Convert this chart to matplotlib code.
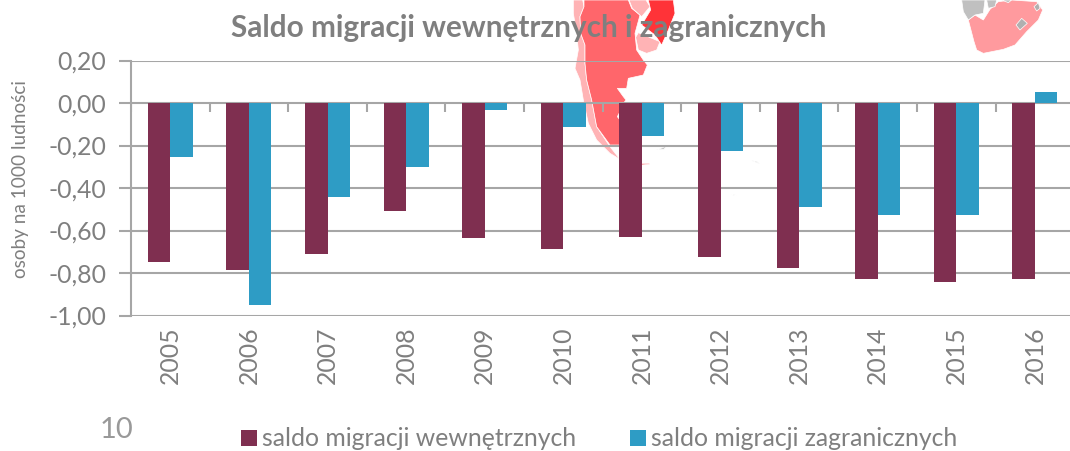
import numpy as np
import matplotlib
matplotlib.use("Agg")
import matplotlib.pyplot as plt
from matplotlib.patches import Polygon

plt.rcParams['font.family'] = ['Lato', 'DejaVu Sans']

lata = ['2005', '2006', '2007', '2008', '2009', '2010', '2011', '2012', '2013', '2014', '2015', '2016']
wewn = [-0.75, -0.785, -0.71, -0.51, -0.635, -0.685, -0.63, -0.725, -0.775, -0.83, -0.84, -0.83]
zagr = [-0.255, -0.95, -0.44, -0.30, -0.035, -0.115, -0.155, -0.225, -0.49, -0.525, -0.525, 0.05]
y_ticks = [0.20, 0.00, -0.20, -0.40, -0.60, -0.80, -1.00]

SZARY = '#7f7f7f'
LINIA = '#a6a6a6'

W, H = 1070, 451
fig = plt.figure(figsize=(W / 100, H / 100), dpi=100)

# prostokat osi w pikselach obrazka
lewa, prawa, gora, dol = 131, 1070, 60.5, 315.5
ax = fig.add_axes([lewa / W, 1 - dol / H, (prawa - lewa) / W, (dol - gora) / H])
ax.patch.set_alpha(0)

# kawalki mapy przebijajace spod wykresu (wspolrzedne z powiekszenia)
chile = [(40, 0), (68, 0), (72, 20), (60, 50), (62, 100), (75, 135), (75, 190), (80, 240), (95, 300), (110, 380),
         (150, 440), (180, 478), (150, 460), (110, 420), (85, 370), (70, 300), (60, 240), (45, 205), (55, 150),
         (50, 100), (40, 40)]
argentyna = [(72, 0), (205, 0), (215, 25), (240, 45), (225, 100), (230, 150), (250, 180), (262, 195), (250, 225),
             (205, 235), (200, 265), (172, 265), (190, 290), (198, 300), (190, 310), (180, 335), (172, 350),
             (180, 360), (178, 435), (150, 435), (110, 380), (95, 300), (80, 240), (75, 190), (75, 135), (62, 100),
             (60, 50), (72, 20)]
paragwaj = [(207, 0), (258, 0), (270, 20), (245, 50), (217, 25)]
urugwaj = [(235, 98), (300, 125), (290, 150), (260, 160), (235, 150), (227, 112)]
brazylia = [(265, 0), (340, 0), (345, 40), (325, 90), (305, 135), (285, 105), (245, 75), (272, 30)]
odlamki = [(245, 490), (268, 490), (268, 493), (245, 495)]
wyspy = [[(290, 450), (320, 438), (312, 448)], [(575, 482), (600, 492), (590, 484)], [(515, 583), (530, 586), (520, 586)]]

rpa = [(85, 60), (105, 45), (130, 60), (150, 28), (175, 5), (215, 0), (290, 5), (308, 30), (295, 60), (260, 95),
       (225, 135), (190, 148), (130, 160), (110, 150), (102, 125)]
namibia = [(65, 0), (135, 0), (130, 40), (105, 45), (85, 60), (70, 35)]
botswana = [(140, 0), (170, 0), (165, 20), (145, 25)]
zimbabwe = [(185, 0), (215, 0), (205, 8)]
lesotho = [(228, 75), (245, 55), (262, 70), (240, 90)]
suazi = [(282, 20), (295, 8), (300, 25), (290, 33)]


def mapa(punkty, x0, kolor):
    xy = [((x0 + x / 3) / W, 1 - (y / 3) / H) for x, y in punkty]
    fig.add_artist(Polygon(xy, closed=True, transform=fig.transFigure, facecolor=kolor,
                           edgecolor='white', linewidth=0.5, zorder=-1))


mapa(chile, 560, '#ffb3b5')
mapa(argentyna, 560, '#ff666b')
mapa(paragwaj, 560, '#ffb3b5')
mapa(urugwaj, 560, '#ffb3b5')
mapa(brazylia, 560, '#ff3338')
mapa(odlamki, 560, '#ff666b')
for w in wyspy:
    mapa(w, 560, '#c8c8c8')
mapa(rpa, 940, '#ff9a9e')
mapa(namibia, 940, '#c0c0c0')
mapa(botswana, 940, '#c0c0c0')
mapa(zimbabwe, 940, '#c0c0c0')
mapa(lesotho, 940, '#b0b0b0')
mapa(suazi, 940, '#b0b0b0')

x = np.arange(len(lata))
szer = 0.286
ax.bar(x - szer / 2, wewn, szer, color='#7f2f50', zorder=3, label='saldo migracji wewnętrznych')
ax.bar(x + szer / 2, zagr, szer, color='#2e9cc5', zorder=3, label='saldo migracji zagranicznych')

ax.set_ylim(-1.0, 0.2)
ax.set_yticks(y_ticks)
ax.set_yticklabels([f'{v:.2f}'.replace('.', ',') for v in y_ticks], fontsize=17.8, color=SZARY)
ax.grid(axis='y', color=LINIA, linewidth=1.5, zorder=1)
ax.tick_params(axis='y', length=9, width=1.5, color=LINIA, pad=9)

ax.spines['top'].set_visible(False)
ax.spines['right'].set_visible(False)
ax.spines['bottom'].set_visible(False)
ax.spines['left'].set_color(LINIA)
ax.spines['left'].set_linewidth(1.5)

# kreski kategorii siedza na linii zera, etykiety pod wykresem
ax.set_xticks(x)
ax.set_xticklabels(lata, rotation=90, fontsize=17.8, color=SZARY)
ax.tick_params(axis='x', length=0, pad=8)
ax.vlines(np.arange(len(lata) + 1) - 0.5, -0.04, 0, color=LINIA, linewidth=1.5, zorder=2)
ax.set_xlim(-0.5, -0.5 + (prawa - lewa) / 78.6)

ax.set_ylabel('osoby na 1000 ludności', fontsize=13.7, color=SZARY)
ax.yaxis.set_label_coords((29 - lewa) / (prawa - lewa), 0.537)

fig.text(528.5 / W, 1 - 28 / H, 'Saldo migracji wewnętrznych i zagranicznych', fontsize=21.4, fontweight='bold',
         color=SZARY, ha='center', va='center')
fig.text(116 / W, 1 - 430 / H, '10', fontsize=21, color='#999999', ha='center', va='center')

fig.legend(loc='center', bbox_to_anchor=(599 / W, 1 - 439 / H), ncol=2, frameon=False, fontsize=17.8,
           labelcolor=SZARY, handlelength=0.65, handleheight=0.65, handletextpad=0.2, columnspacing=2.2)

fig.savefig('out.png', dpi=100)
